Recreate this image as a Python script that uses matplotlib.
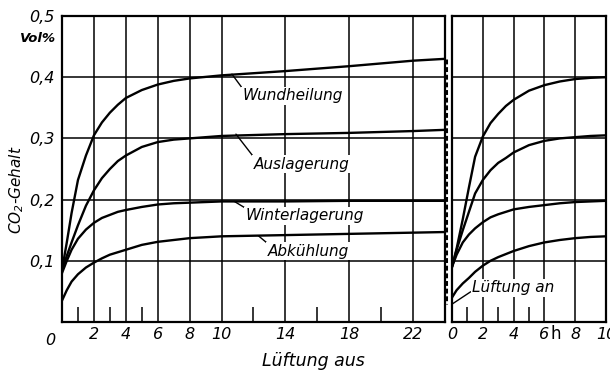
import matplotlib.pyplot as plt
import numpy as np

# CO2 content (Vol%) after ventilation is switched off ("Lüftung aus"), hours
t_aus = [0, 0.3, 0.6, 1, 1.5, 2, 2.5, 3, 3.5, 4, 5, 6, 7, 8, 10, 14, 18, 22, 24]
wund_aus = [0.085, 0.13, 0.178, 0.232, 0.272, 0.305, 0.326, 0.342, 0.355, 0.366, 0.379,
            0.388, 0.394, 0.398, 0.403, 0.41, 0.418, 0.427, 0.43]
ausl_aus = [0.085, 0.108, 0.13, 0.158, 0.19, 0.215, 0.235, 0.25, 0.263, 0.272, 0.286,
            0.294, 0.298, 0.300, 0.304, 0.307, 0.309, 0.312, 0.314]
wint_aus = [0.08, 0.1, 0.118, 0.136, 0.151, 0.162, 0.17, 0.175, 0.18, 0.183, 0.188,
            0.192, 0.194, 0.195, 0.197, 0.197, 0.198, 0.198, 0.198]
abk_aus = [0.035, 0.052, 0.066, 0.078, 0.089, 0.097, 0.104, 0.11, 0.114, 0.118, 0.126,
           0.131, 0.134, 0.137, 0.14, 0.142, 0.144, 0.146, 0.147]

# CO2 content after ventilation is switched on again ("Lüftung an"), hours
t_an = [0, 0.3, 0.7, 1.1, 1.5, 2, 2.5, 3, 3.5, 4, 5, 6, 7, 8, 9, 10]
wund_an = [0.09, 0.12, 0.168, 0.22, 0.27, 0.303, 0.325, 0.34, 0.353, 0.363, 0.378,
           0.387, 0.393, 0.397, 0.399, 0.40]
ausl_an = [0.09, 0.118, 0.15, 0.18, 0.21, 0.232, 0.248, 0.26, 0.268, 0.277, 0.289,
           0.296, 0.300, 0.302, 0.304, 0.305]
wint_an = [0.09, 0.11, 0.13, 0.143, 0.153, 0.163, 0.171, 0.176, 0.18, 0.184, 0.188,
           0.191, 0.194, 0.196, 0.197, 0.198]
abk_an = [0.04, 0.052, 0.063, 0.072, 0.082, 0.092, 0.1, 0.106, 0.111, 0.116, 0.124,
          0.13, 0.134, 0.137, 0.139, 0.14]

xticks_aus = [2, 4, 6, 8, 10, 14, 18, 22]
xminor_aus = [1, 3, 5, 12, 16, 20]
xticks_an = [0, 2, 4, 6, 8, 10]
xminor_an = [1, 3, 5]
yticks = [0.1, 0.2, 0.3, 0.4, 0.5]
ylabels = ['0,1', '0,2', '0,3', '0,4', '0,5']

plt.rcParams['font.family'] = 'DejaVu Sans'
plt.rcParams['font.style'] = 'italic'
plt.rcParams['font.size'] = 11

fig = plt.figure(figsize=(6.1, 3.72), dpi=100)
ax = fig.add_axes([62/610, 50/372, 383/610, 306/372])
ax2 = fig.add_axes([452/610, 50/372, 154/610, 306/372])

lw_curve = 1.7
for ys in (wund_aus, ausl_aus, wint_aus, abk_aus):
    ax.plot(t_aus, ys, c='k', lw=lw_curve, solid_joinstyle='round', zorder=3)
for ys in (wund_an, ausl_an, wint_an, abk_an):
    ax2.plot(t_an, ys, c='k', lw=lw_curve, solid_joinstyle='round', zorder=3)

# drop of CO2 when ventilation comes on
ax2.plot([-0.38, -0.38], [wund_aus[-1], abk_an[0] - 0.01], c='k', lw=2.2,
         ls=(0, (1.6, 0.9)), clip_on=False, zorder=3)

for a, xmax in ((ax, 24), (ax2, 10)):
    a.set_xlim(0, xmax)
    a.set_ylim(0, 0.5)
    a.set_yticks(yticks)
    a.grid(True, c='k', lw=1.1)
    a.set_axisbelow(True)
    for s in a.spines.values():
        s.set_linewidth(1.6)
    a.tick_params(which='major', length=0, labelsize=11.5)
    a.tick_params(axis='x', which='major', pad=3.5)
    a.tick_params(which='minor', direction='in', length=10.5, width=1.1)

ax.set_xticks(xticks_aus)
ax.set_xticks(xminor_aus, minor=True)
ax.set_yticklabels(ylabels)
ax.tick_params(axis='y', pad=5)
ax2.set_xticks(xticks_an)
ax2.set_xticks(xminor_an, minor=True)
ax2.set_yticklabels([])
ax2.tick_params(axis='y', which='both', length=0)
ax.tick_params(axis='y', which='minor', length=0)

ax.text(-0.031, -0.06, '0', transform=ax.transAxes, ha='center', va='center',
        fontsize=11.5)
ax.text(-0.063, 0.925, 'Vol%', transform=ax.transAxes, ha='center', va='center',
        fontsize=9.5, weight='bold')
ax2.text(6.75, -0.04, 'h', transform=ax2.get_xaxis_transform(), ha='center', va='center',
         fontsize=12, style='normal')
fig.text(17/610, 1 - 190/372, 'CO$_2$-Gehalt', rotation=90, ha='center', va='center',
         fontsize=11)
fig.text(313/610, 1 - 361/372, 'Lüftung aus', ha='center', va='center', fontsize=12.5)

box = dict(fc='white', ec='none', pad=1)
arrow = dict(arrowstyle='-', lw=1.0, color='k', shrinkA=0, shrinkB=0, relpos=(0, 1))
ax.annotate('Wundheilung', xy=(10.65, 0.405), xytext=(11.3, 0.382), ha='left', va='top',
            bbox=box, arrowprops=arrow, zorder=4)
ax.annotate('Auslagerung', xy=(10.9, 0.307), xytext=(12.0, 0.27), ha='left', va='top',
            bbox=box, arrowprops=arrow, zorder=4)
ax.annotate('Winterlagerung', xy=(10.8, 0.197), xytext=(11.5, 0.186), ha='left', va='top',
            bbox=box, arrowprops=arrow, zorder=4)
ax.annotate('Abkühlung', xy=(12.3, 0.141), xytext=(12.9, 0.128), ha='left', va='top',
            bbox=box, arrowprops=arrow, zorder=4)
ax2.annotate('Lüftung an', xy=(0.05, 0.03), xytext=(1.3, 0.068), ha='left', va='top',
             bbox=box, arrowprops=dict(arrowstyle='-', lw=1.0, color='k', shrinkA=0,
                                       shrinkB=0, relpos=(0, 0.3)), zorder=4)

plt.savefig('out.png', dpi=100)
